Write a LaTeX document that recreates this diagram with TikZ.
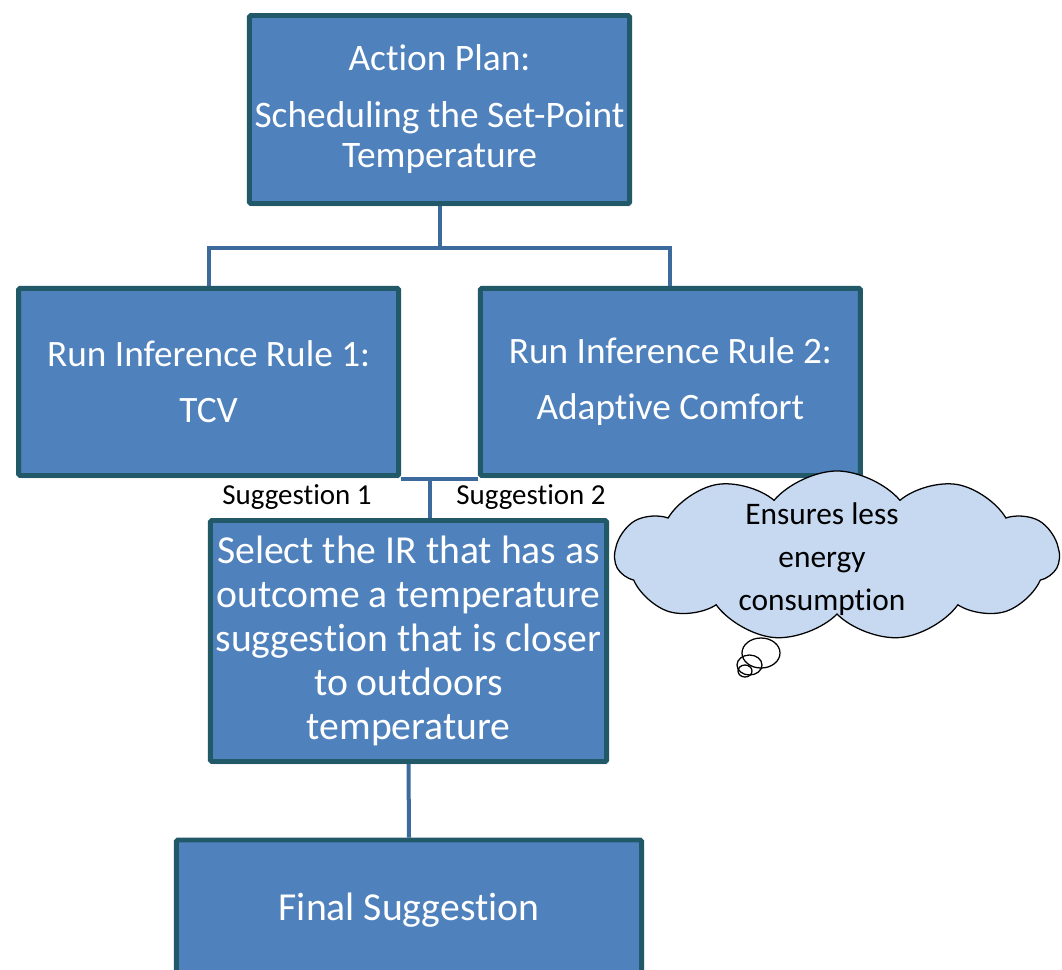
\documentclass[tikz,border=0pt]{standalone}
\usepackage{fontspec}
\setmainfont{Carlito}[Ligatures=NoCommon]
\usetikzlibrary{shapes.symbols,shapes.geometric,shadows}
\definecolor{boxfill}{HTML}{4F81BD}
\definecolor{boxline}{HTML}{215968}
\definecolor{linkblue}{HTML}{3C6A9C}
\definecolor{cloudfill}{HTML}{C6D9F1}
\begin{document}
\begin{tikzpicture}[x=0.025cm,y=-0.025cm,
        box/.style={rectangle,draw=boxline,fill=boxfill,line width=3.5pt,rounded corners=1pt,text=white,align=center,
            drop shadow={opacity=0.25,shadow xshift=1.5pt,shadow yshift=-2pt}},
        link/.style={draw=linkblue,line width=2.85pt},
        tag/.style={fill=white,text=black,inner sep=1pt,font=\fontsize{20.6}{24}\selectfont},
        cloudy/.style={cloud,cloud puffs=11,cloud puff arc=100,cloud ignores aspect,draw=black,fill=cloudfill,
            line width=0.9pt,minimum width=111mm,minimum height=42.5mm},
        bubble/.style={ellipse,draw=black,line width=0.9pt,inner sep=0pt},
        level distance=68.1mm, sibling distance=115.4mm,
        edge from parent/.style={link},
        edge from parent path={(\tikzparentnode.south) -- ++(0,-10.6mm) -| (\tikzchildnode.north)}]
    \useasboundingbox (0,0) rectangle (1062,970);
    \node[box,minimum width=95mm,minimum height=47mm,font=\fontsize{26.6}{28.5}\selectfont] (plan) at (439.5,109.5)
        {Action Plan:\\[12pt]Scheduling the Set-Point\\Temperature}
        child {node[box,minimum width=95mm,minimum height=46.75mm,font=\fontsize{26.5}{39.8}\selectfont] (rule1)
            {Run Inference Rule 1:\\TCV}}
        child {node[box,minimum width=95mm,minimum height=46.75mm,font=\fontsize{26.5}{39.8}\selectfont] (rule2)
            {Run Inference Rule 2:\\Adaptive Comfort}};
    \node[box,minimum width=99mm,minimum height=60.25mm,font=\fontsize{28.2}{31.3}\selectfont] (select) at (408.5,641)
        {Select the IR that has as\\outcome a temperature\\suggestion that is closer\\to outdoors\\temperature};
    \node[box,minimum width=116.25mm,minimum height=35mm,font=\fontsize{28.2}{31.3}\selectfont] (final) at (409,910)
        {Final Suggestion};
    \coordinate (join) at (430,479);
    \draw[link] (rule1.south east |- join) -- (rule2.south west |- join);
    \draw[link] (join) -- (join |- select.north);
    \draw[link] (select.south) -- (final.north);
    \node[tag] (sugg1) at (297,497) {Suggestion 1};
    \node[tag] (sugg2) at (531,497) {Suggestion 2};
    \node[cloudy] (cloud) at (837,556) {};
    \node[align=center,font=\fontsize{22.3}{30.6}\selectfont] (ensures) at (822,559) {Ensures less\\energy\\consumption};
    \node[bubble,minimum width=9.5mm,minimum height=7.5mm] (bub1) at (761,653) {};
    \node[bubble,minimum width=6.25mm,minimum height=5mm] (bub2) at (749.5,665) {};
    \node[bubble,minimum width=3.5mm,minimum height=3mm] (bub3) at (745,671) {};
\end{tikzpicture}
\end{document}
